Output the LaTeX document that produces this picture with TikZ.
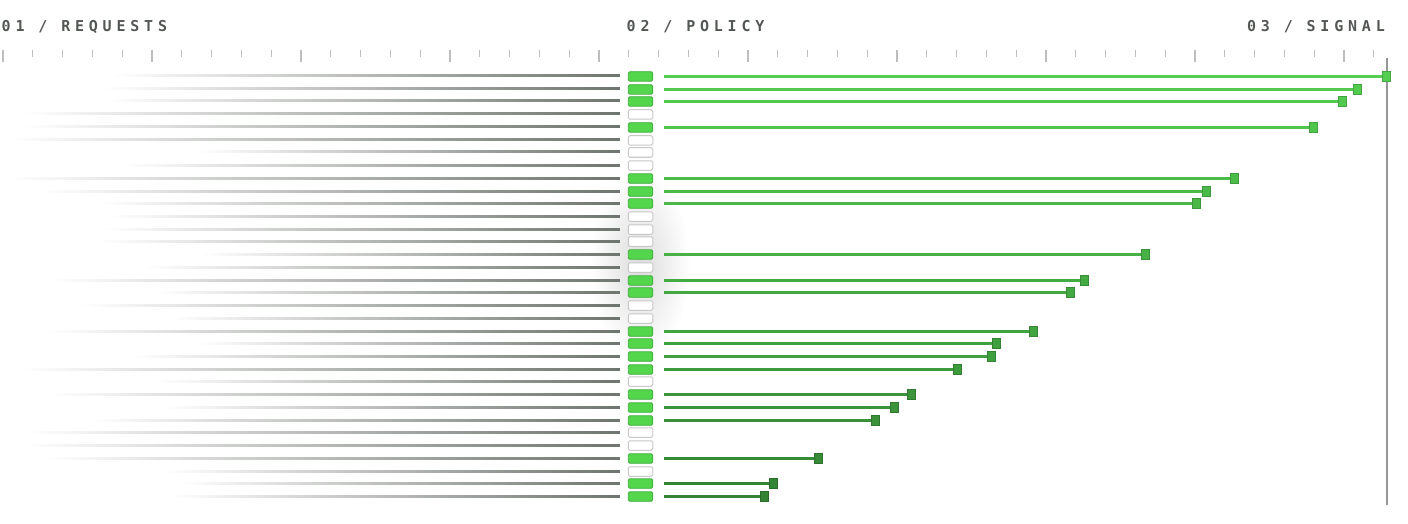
\documentclass[tikz,border=0pt]{standalone}
\usepackage{fontspec}
\newfontfamily\headfont[LetterSpace=32]{DejaVu Sans Mono}
\usetikzlibrary{positioning}

\definecolor{headgray}{RGB}{84,88,84}
\definecolor{tickgray}{RGB}{190,190,190}
\definecolor{axisgray}{RGB}{150,150,150}
\definecolor{reqgray}{RGB}{110,116,110}
\definecolor{polgreen}{RGB}{84,214,76}
\definecolor{poledge}{RGB}{62,172,60}
\definecolor{offedge}{RGB}{200,200,200}
\definecolor{sigHi}{RGB}{84,206,80}
\definecolor{sigLo}{RGB}{52,132,52}

\tikzstyle{header} = [font=\headfont\bfseries\fontsize{15}{18}\selectfont,
  text=headgray, inner sep=0pt]
\tikzstyle{tick} = [draw=tickgray, line width=1.1pt]
\tikzstyle{axisline} = [draw=axisgray, line width=1.4pt]
\tikzstyle{policyon} = [rectangle, rounded corners=1.5pt, minimum width=24.5pt,
  minimum height=9.5pt, inner sep=0pt, draw=poledge, fill=polgreen,
  line width=0.8pt]
\tikzstyle{policyoff} = [rectangle, rounded corners=1.5pt, minimum width=24.5pt,
  minimum height=9.5pt, inner sep=0pt, draw=offedge, fill=white,
  line width=1pt]
\tikzstyle{marker} = [rectangle, minimum width=8pt, minimum height=9.5pt,
  inner sep=0pt, line width=0.8pt]
\tikzstyle{signal} = [line width=3pt]

\begin{document}
\begin{tikzpicture}[x=1pt, y=-1pt]
\useasboundingbox (0,0) rectangle (1408,524);

%% glow behind the policy column
\shade[inner color=black!14, outer color=white] (640,265) ellipse [x radius=50, y radius=95];

%% headers
\node (reqHead) [header, anchor=base west] at (1.5,32) {01 / REQUESTS};
\node (polHead) [header, anchor=base west] at (626.5,32) {02 / POLICY};
\node (sigHead) [header, anchor=base east] at (1385,32) {03 / SIGNAL};

%% scale
\foreach \k in {0,...,46} {
  \pgfmathsetmacro{\tx}{3+29.8*\k}
  \pgfmathsetmacro{\ty}{mod(\k,5)==0 ? 62 : 57}
  \draw [tick] (\tx,50) -- (\tx,\ty);
}
\coordinate (sigTop) at (1387,58);
\coordinate (sigBot) at (1387,505);
\draw [axisline] (sigTop) -- (sigBot);

%% requests and policy boxes
\foreach \s/\st [count=\i] in {112/on,104/on,105/on,22/off,24/on,8/off,198/off,124/off,
  8/on,40/on,97/on,110/off,104/off,99/off,201/on,144/off,50/on,154/on,80/off,170/off,
  45/on,198/on,130/on,20/on,157/off,48/on,164/on,90/on,27/off,24/off,44/on,164/off,
  180/on,170/on} {
  \pgfmathsetmacro{\y}{round(76+(\i-1)*12.727)+0.5}
  \node (p\i) [policy\st] at (640.5,\y) {};
  \coordinate (r\i) at (\s,\y);
  \shade [left color=white, right color=reqgray]
    ([yshift=1.5pt]r\i) rectangle ([xshift=-8pt,yshift=-0.5pt]p\i.west);
}

%% signals
\foreach \i/\e in {1/1386.5,2/1357.5,3/1342,5/1313.5,9/1234,10/1206.5,11/1196,
  15/1145,17/1084,18/1070,21/1033,22/996.5,23/991.5,24/957,26/911,27/894.5,
  28/875.5,31/818,33/773,34/764} {
  \pgfmathsetmacro{\pct}{(\e-764)/(1386.5-764)*100}
  \colorlet{sigc}{sigHi!\pct!sigLo}
  \node (s\i) [marker, fill=sigc, draw=sigc!82!black, anchor=center]
    at (\e,{round(76+(\i-1)*12.727)+0.5}) {};
  \draw [signal, sigc] ([xshift=11pt]p\i.east) -- (s\i.west);
}

\end{tikzpicture}
\end{document}
